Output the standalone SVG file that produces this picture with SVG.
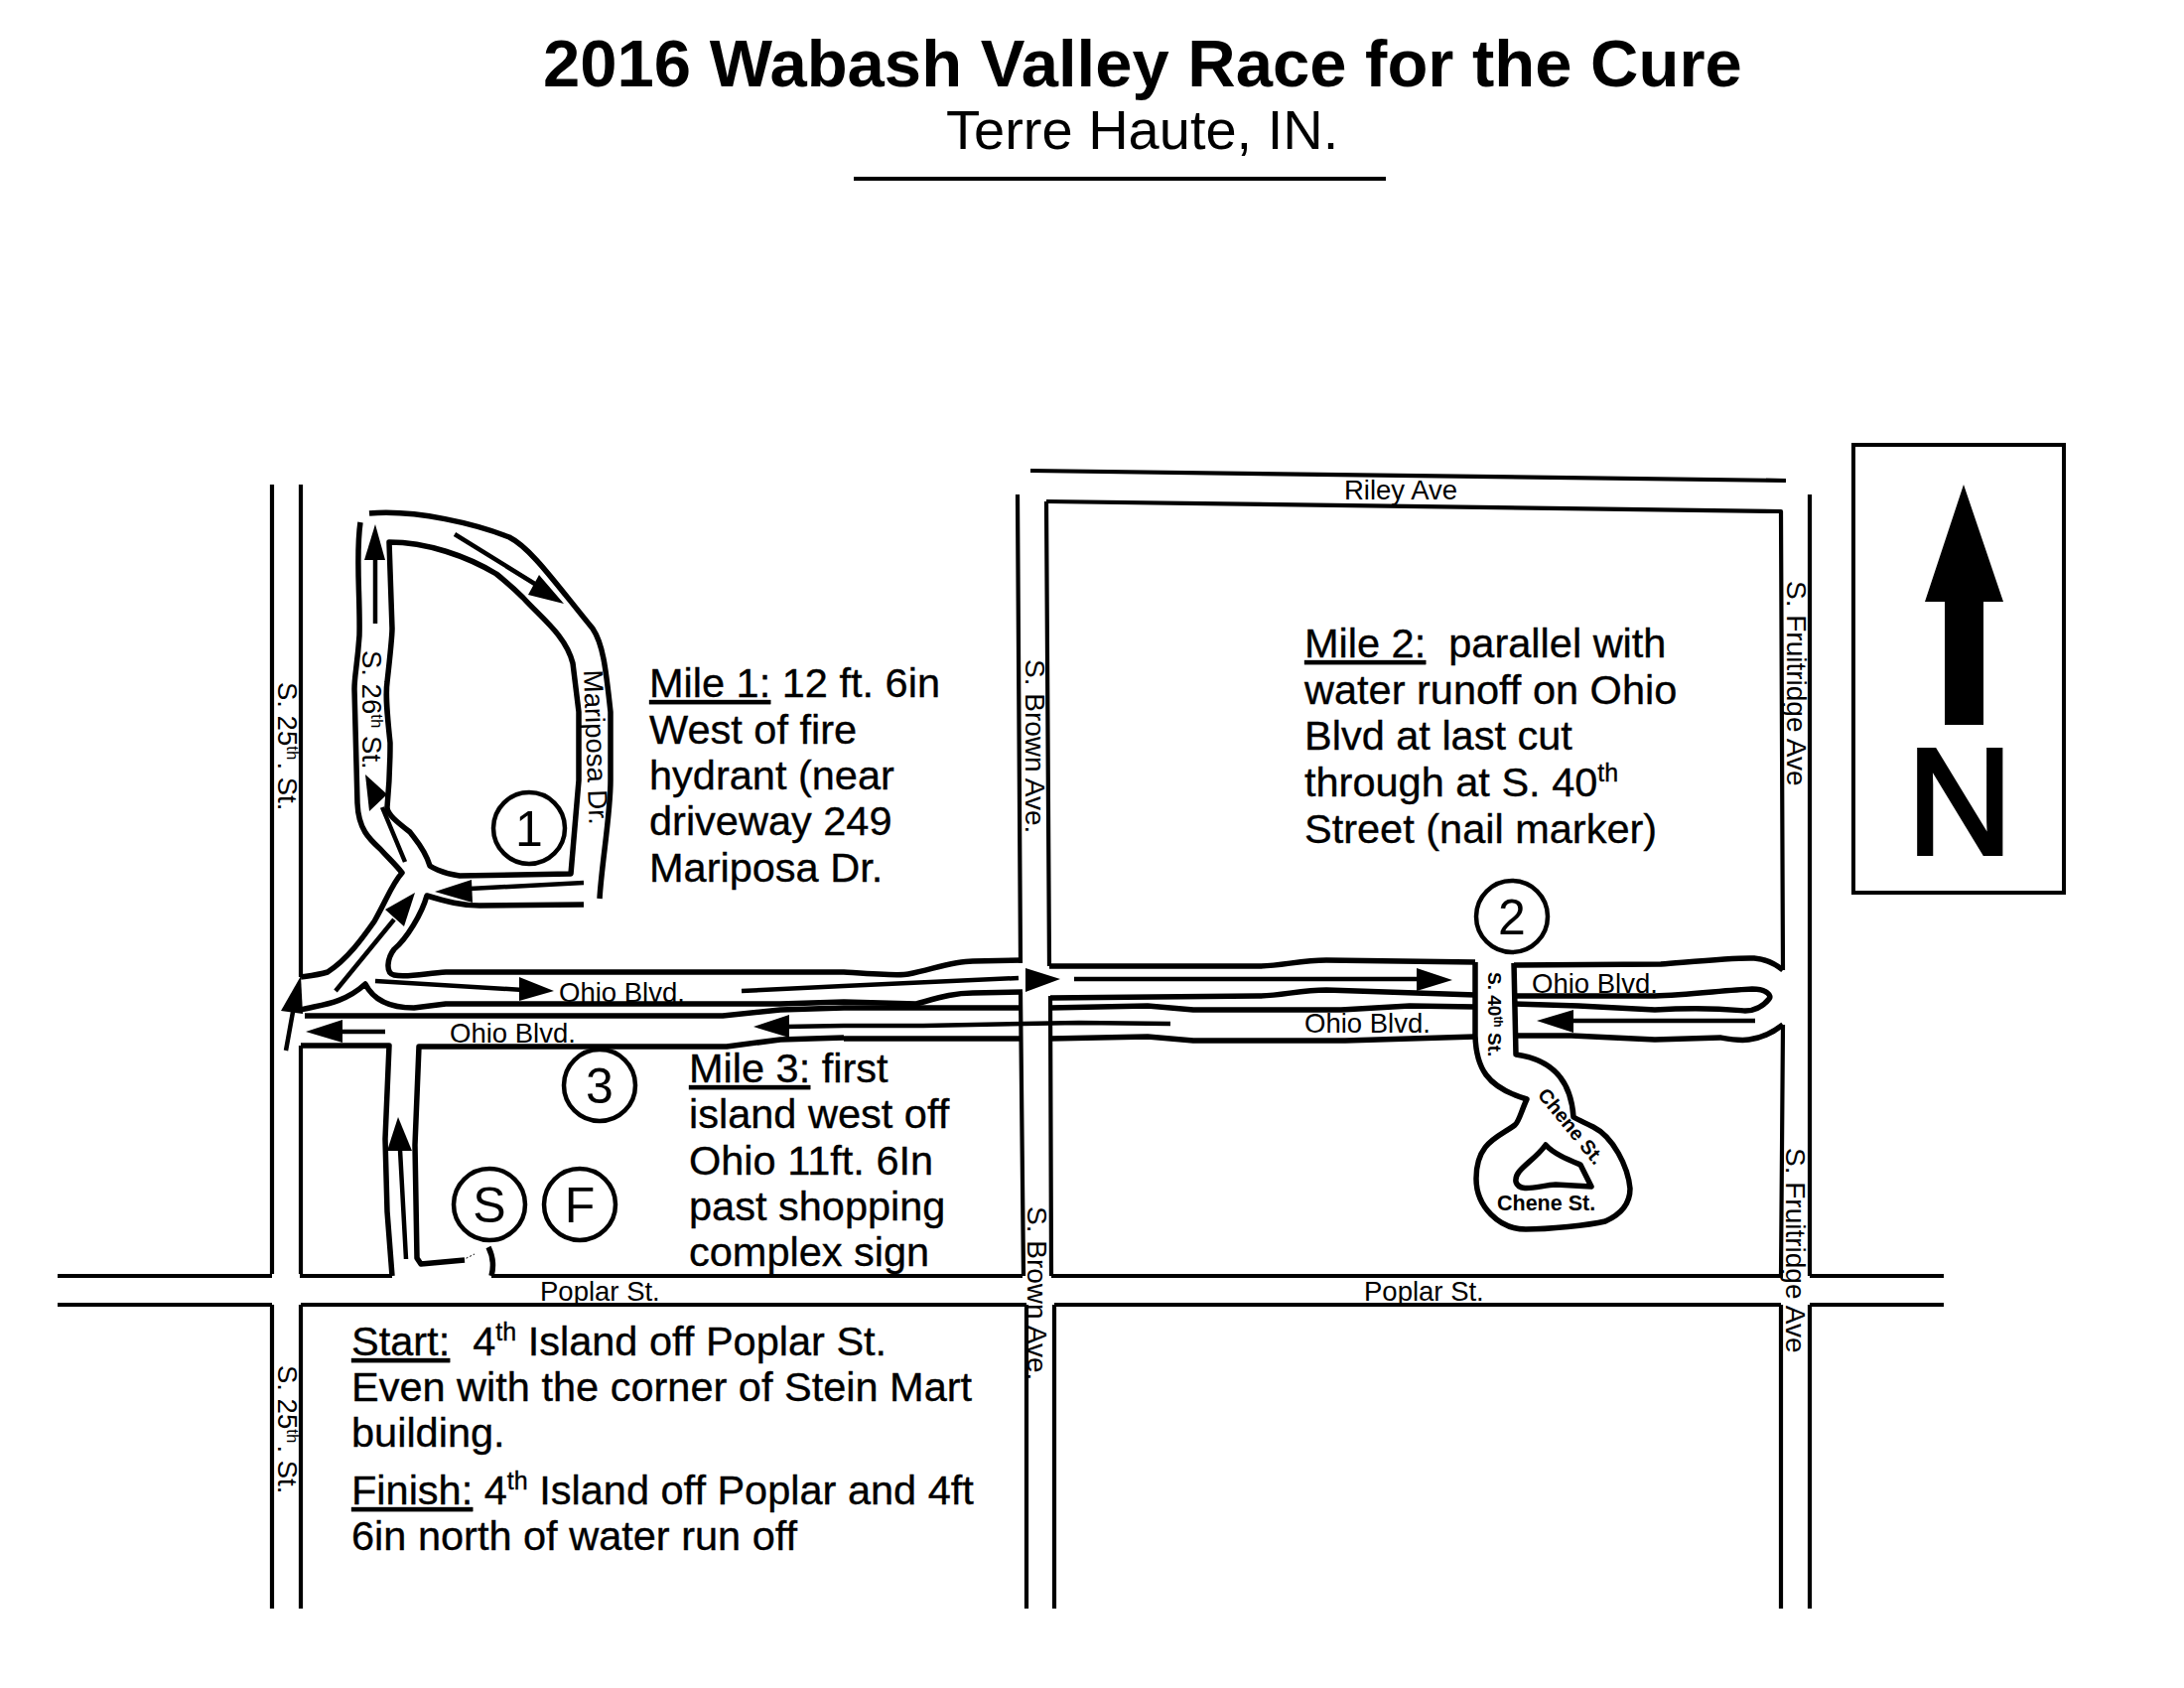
<svg xmlns="http://www.w3.org/2000/svg" width="2200" height="1700" viewBox="0 0 2200 1700">
<style>
text{font-family:"Liberation Sans",Arial,sans-serif;fill:#000;white-space:pre}
.t{font-size:41.5px;stroke:#000;stroke-width:.35}
.s{font-size:27.5px}
.u{text-decoration:underline}
.b{font-weight:bold}
.c{font-size:50px;text-anchor:middle}
.g{fill:none;stroke:#000;stroke-width:4.2;stroke-linejoin:round}
.r{fill:none;stroke:#000;stroke-width:5.5;stroke-linejoin:round}
.a{fill:none;stroke:#000;stroke-width:4.5}
.h{fill:#000;stroke:none}
.m{fill:#fff;stroke:#000;stroke-width:4.5}
</style>
<rect width="2200" height="1700" fill="#fff"/>
<g id="title">
<text x="547" y="87" class="b" font-size="67">2016 Wabash Valley Race for the Cure</text>
<text x="953" y="150" font-size="56">Terre Haute, IN.</text>
<path d="M860 180H1396" stroke="#000" stroke-width="4"/>
</g>
<g id="connectors">
<g id="roads">
<path class="g" d="M274 488V1283M274 1314V1620M303 488V984M303 1053V1283M303 1314V1620"/>
<path class="g" d="M58 1285H274M302 1285H395M495 1285H1030M1059 1285H1796M1823 1285H1958M58 1314H274M303 1314H1034M1062 1314H1794M1823 1314H1958"/>
<path class="g" d="M1025 498L1028 970M1028 999L1031 1285M1034 1314V1620M1054 505L1057 973M1058 1003L1059 1285M1062 1314V1620"/>
<path class="g" d="M1038 474L1799 484M1054 505L1794 515L1796 977M1796 1032L1794 1285M1794 1314V1620M1823 498V1285M1823 1314V1620"/>
<path class="r" d="M363 526C358 560 363 600 362 640C360 670 357 680 357 694L360 809C361 835 372 845 383 855C392 865 398 870 405 879C395 890 390 905 377 928C365 945 350 966 330 979C320 982 310 983 303 984"/>
<path class="r" d="M372 517C420 513 480 528 513 541C535 552 560 588 597 633C607 648 610 670 615 717L615 786C615 820 606 870 604 905"/>
<path class="r" d="M392 546C430 546 470 560 500 578C515 590 525 600 527 602C545 622 570 640 577 668L583 717L583 786L575 880L463 882C445 880 433 872 433 872C428 855 418 845 413 838C400 828 390 820 390 813C393 780 393 748 393 748C390 720 388 700 390 687C393 660 395 640 395 633Z"/>
<path class="r" d="M588 911L483 912C465 912 450 908 430 902C425 920 410 945 397 956C390 965 388 980 397 982C410 985 430 980 449 979L850 979C880 981 905 983 915 981C940 976 960 968 980 968L1030 967"/>
<path class="r" d="M303 1017C320 1012 345 1012 368 991C375 1005 390 1015 417 1015L449 1011L786 1011L850 1009L923 1011C945 1005 960 1000 980 1000L1030 999"/>
<path class="r" d="M307 1023H728L786 1017L850 1015H1028"/>
<path class="r" d="M303 1053H392L388 1147L390 1220L395 1285"/>
<path class="r" d="M850 1045L786 1047L732 1054H422L418 1153L420 1267L424 1273L468 1269"/>
<path class="r" d="M850 1046H1028M492 1256Q499 1270 495 1285"/>
<path class="r" d="M1057 973H1267C1290 973 1310 967 1336 967L1486 969"/>
<path class="r" d="M1058 1005L1267 1003C1290 1003 1310 997 1336 997L1486 1002"/>
<path class="r" d="M1058 1015L1156 1013L1202 1017H1351L1420 1013L1486 1014"/>
<path class="r" d="M1058 1046L1156 1044L1202 1048H1355L1486 1044"/>
<path class="r" d="M1486 969L1486 1043C1487 1075 1497 1095 1538 1107C1532 1120 1530 1130 1526 1133C1510 1145 1487 1150 1487 1187C1487 1215 1510 1238 1537 1238C1560 1238 1600 1234 1617 1230C1635 1222 1642 1210 1642 1197C1640 1175 1625 1145 1605 1135C1595 1130 1590 1128 1585 1125C1583 1095 1570 1068 1527 1062L1525 970"/>
<path class="r" d="M1557 1153C1565 1162 1580 1168 1592 1173L1603 1195L1567 1193C1550 1194 1530 1202 1527 1190C1525 1178 1545 1170 1557 1153Z"/>
<path class="r" d="M1525 972L1673 971C1710 968 1750 964 1767 965C1780 966 1790 972 1796 977"/>
<path class="r" d="M1525 1003L1667 1003C1700 1002 1740 997 1765 996C1780 996 1785 1003 1782 1006C1775 1015 1765 1018 1758 1018C1745 1017 1720 1014 1667 1017L1590 1013L1525 1011"/>
<path class="r" d="M1525 1043L1583 1043L1667 1047L1733 1045C1750 1048 1770 1052 1796 1032"/>
</g>
<g id="route-arrows">
<path class="a" d="M588 889L473 895M458 538L550 595M378 628V556M408 868L385 813M338 998L397 926M378 988L527 997M288 1058L297 1008M388 1039H340M409 1268L403 1158M747 998L850 993L1026 985M1082 986H1430M1768 1028H1580M1179 1031L1087 1030L930 1033L850 1033L790 1034"/>
<path d="M466 1269L478 1263" stroke="#000" stroke-width="1" stroke-dasharray="2 2"/>
<polygon class="h" points="438,898 475,886 476,909"/>
<polygon class="h" points="568,608 543,579 532,599"/>
<polygon class="h" points="378,528 367,564 388,564"/>
<polygon class="h" points="368,780 372,817 390,800"/>
<polygon class="h" points="418,899 388,916 407,933"/>
<polygon class="h" points="558,998 523,984 523,1008"/>
<polygon class="h" points="303,983 283,1018 305,1021"/>
<polygon class="h" points="308,1039 345,1027 345,1050"/>
<polygon class="h" points="401,1125 390,1159 415,1159"/>
<polygon class="h" points="759,1034 795,1022 795,1045"/>
<polygon class="h" points="1068,986 1033,975 1033,999"/>
<polygon class="h" points="1463,987 1427,975 1427,998"/>
<polygon class="h" points="1548,1028 1585,1017 1585,1040"/>
</g>
</g>
<g id="marker-1"><circle class="m" cx="533" cy="834" r="36"/><text class="c" x="533" y="852">1</text></g>
<g id="marker-2"><circle class="m" cx="1523" cy="923" r="36"/><text class="c" x="1523" y="941">2</text></g>
<g id="marker-3"><circle class="m" cx="604" cy="1093" r="36"/><text class="c" x="604" y="1111">3</text></g>
<g id="marker-S"><circle class="m" cx="493" cy="1213" r="36"/><text class="c" x="493" y="1231">S</text></g>
<g id="marker-F"><circle class="m" cx="584" cy="1213" r="36"/><text class="c" x="584" y="1231">F</text></g>
<g id="north">
<rect x="1867" y="448" width="212" height="451" fill="#fff" stroke="#000" stroke-width="4"/>
<polygon class="h" points="1978,488 2018,606 1998,606 1998,730 1959,730 1959,606 1939,606"/>
<text transform="translate(1921,860) scale(0.97,1)" font-size="152" stroke="#000" stroke-width="4">N</text>
</g>
<g id="street-labels">
<text class="s" x="1354" y="503">Riley Ave</text>
<text class="s" x="563" y="1009">Ohio Blvd.</text>
<text class="s" x="453" y="1050">Ohio Blvd.</text>
<text class="s" x="1314" y="1040">Ohio Blvd.</text>
<text class="s" x="1543" y="1000">Ohio Blvd.</text>
<text class="s" x="544" y="1310">Poplar St.</text>
<text class="s" x="1374" y="1310">Poplar St.</text>
<text class="s" transform="translate(280,687) rotate(90)">S. 25<tspan font-size="17" dy="-9">th</tspan><tspan dy="9" dx="2">. St.</tspan></text>
<text class="s" transform="translate(280,1375) rotate(90)">S. 25<tspan font-size="17" dy="-9">th</tspan><tspan dy="9" dx="2">. St.</tspan></text>
<text class="s" transform="translate(365,655) rotate(90)">S. 26<tspan font-size="17" dy="-9">th</tspan><tspan dy="9"> St.</tspan></text>
<text class="s" transform="translate(588,675) rotate(88)">Mariposa Dr.</text>
<text class="s" transform="translate(1033,664) rotate(90)" style="font-size:28px">S. Brown Ave.</text>
<text class="s" transform="translate(1035,1215) rotate(90)" style="font-size:28px">S. Brown Ave.</text>
<text class="s" transform="translate(1800,585) rotate(90)" style="font-size:28px">S. Fruitridge Ave</text>
<text class="s" transform="translate(1799,1156) rotate(90)" style="font-size:28px">S. Fruitridge Ave</text>
<text class="b" font-size="19" transform="translate(1499,979) rotate(90)">S. 40<tspan font-size="12" dy="-6">th</tspan><tspan dy="6"> St.</tspan></text>
<text class="b" font-size="20" transform="translate(1548,1103) rotate(50.6)">Chene St.</text>
<text class="b" font-size="21.5" x="1508" y="1219">Chene St.</text>
</g>
<g id="notes">
<text class="t" x="654" y="702"><tspan class="u">Mile 1:</tspan> 12 ft. 6in</text>
<text class="t" x="654" y="749">West of fire</text>
<text class="t" x="654" y="795">hydrant (near</text>
<text class="t" x="654" y="841">driveway 249</text>
<text class="t" x="654" y="888">Mariposa Dr.</text>
<text class="t" x="1314" y="662"><tspan class="u">Mile 2:</tspan>  parallel with</text>
<text class="t" x="1314" y="709">water runoff on Ohio</text>
<text class="t" x="1314" y="755">Blvd at last cut</text>
<text class="t" x="1314" y="802">through at S. 40<tspan font-size="25" dy="-15">th</tspan></text>
<text class="t" x="1314" y="849">Street (nail marker)</text>
<text class="t" x="694" y="1090"><tspan class="u">Mile 3:</tspan> first</text>
<text class="t" x="694" y="1136">island west off</text>
<text class="t" x="694" y="1183">Ohio 11ft. 6In</text>
<text class="t" x="694" y="1229">past shopping</text>
<text class="t" x="694" y="1275">complex sign</text>
<text class="t" x="354" y="1365"><tspan class="u">Start:</tspan>  4<tspan font-size="25" dy="-15">th</tspan><tspan dy="15"> Island off Poplar St.</tspan></text>
<text class="t" x="354" y="1411">Even with the corner of Stein Mart</text>
<text class="t" x="354" y="1457">building.</text>
<text class="t" x="354" y="1515"><tspan class="u">Finish:</tspan> 4<tspan font-size="25" dy="-15">th</tspan><tspan dy="15"> Island off Poplar and 4ft</tspan></text>
<text class="t" x="354" y="1561">6in north of water run off</text>
</g>
</svg>
